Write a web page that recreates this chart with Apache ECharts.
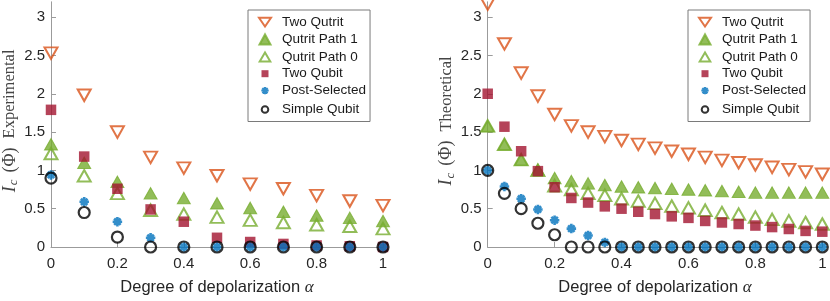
<!DOCTYPE html>
<html>
<head>
<meta charset="utf-8">
<script src="https://cdn.jsdelivr.net/npm/echarts@6/dist/echarts.min.js"></script>
<style>html,body{margin:0;padding:0;background:#fff;}#c{width:830px;height:301px;}</style>
</head>
<body>
<div id="c"></div>
<script>
// ---- data ----
const seriesNames = ['Two Qutrit', 'Qutrit Path 1', 'Qutrit Path 0', 'Two Qubit', 'Post-Selected', 'Simple Qubit'];
const xTicks = [0, 0.2, 0.4, 0.6, 0.8, 1];
const yTicks = [0, 0.5, 1, 1.5, 2, 2.5, 3];

const xExp = [0, 0.1, 0.2, 0.3, 0.4, 0.5, 0.6, 0.7, 0.8, 0.9, 1];
const expTwoQutrit = [2.53, 1.98, 1.50, 1.17, 1.03, 0.93, 0.82, 0.76, 0.67, 0.60, 0.54];
const expPath1     = [1.34, 1.10, 0.85, 0.70, 0.64, 0.57, 0.51, 0.46, 0.41, 0.38, 0.34];
const expPath0     = [1.22, 0.93, 0.70, 0.48, 0.43, 0.39, 0.35, 0.32, 0.29, 0.27, 0.24];
const expTwoQubit  = [1.79, 1.18, 0.76, 0.49, 0.33, 0.12, 0.065, 0.04, 0.02, 0.01, 0];
const expPost      = [0.94, 0.59, 0.33, 0.12, 0, 0, 0, 0, 0, 0, 0];
const expSimple    = [0.90, 0.45, 0.13, 0, 0, 0, 0, 0, 0, 0, 0];

const xTh = [0, 0.05, 0.1, 0.15, 0.2, 0.25, 0.3, 0.35, 0.4, 0.45, 0.5, 0.55, 0.6, 0.65, 0.7, 0.75, 0.8, 0.85, 0.9, 0.95, 1];
const thTwoQutrit = [3.17, 2.65, 2.27, 1.97, 1.73, 1.58, 1.50, 1.44, 1.39, 1.34, 1.29, 1.25, 1.21, 1.17, 1.13, 1.10, 1.07, 1.04, 1.01, 0.98, 0.95];
const thPath1     = [1.58, 1.34, 1.14, 1.01, 0.90, 0.86, 0.83, 0.81, 0.79, 0.78, 0.77, 0.76, 0.75, 0.74, 0.73, 0.72, 0.71, 0.71, 0.71, 0.71, 0.71];
const thPath0     = [1.58, 1.34, 1.14, 1.00, 0.80, 0.75, 0.70, 0.675, 0.63, 0.60, 0.57, 0.535, 0.51, 0.48, 0.45, 0.43, 0.39, 0.36, 0.34, 0.32, 0.30];
const thTwoQubit  = [2.00, 1.57, 1.25, 0.99, 0.78, 0.64, 0.58, 0.53, 0.50, 0.46, 0.43, 0.40, 0.38, 0.34, 0.32, 0.30, 0.28, 0.26, 0.235, 0.21, 0.20];
const thPost      = [1.00, 0.79, 0.63, 0.49, 0.35, 0.24, 0.15, 0.06, 0, 0, 0, 0, 0, 0, 0, 0, 0, 0, 0, 0, 0];
const thSimple    = [1.00, 0.70, 0.50, 0.31, 0.16, 0, 0, 0, 0, 0, 0, 0, 0, 0, 0, 0, 0, 0, 0, 0, 0];

// ---- styles ----
const C_ORANGE = '#D95319', C_GREEN = '#77AC30', C_RED = '#A2142F', C_BLUE = '#0072BD', C_BLACK = '#000000';
const AXIS_GRAY = '#9b9b9b';
const SANS = 'Liberation Sans, Arial, Helvetica, sans-serif';
const SERIF = 'Liberation Serif, Times New Roman, serif';
const ASTERISK = 'path://M5,0L5,10M0,5L10,5M1.6,1.6L8.4,8.4M8.4,1.6L1.6,8.4';

// legend icons (13x13 box; corner points fix the box so small icons stay small)
const BOX = 'M0,0L0,0M13,13L13,13';
const legendIcons = [
  'path://' + BOX + 'M0.5,2.2L12.5,2.2L6.5,11Z',
  'path://' + BOX + 'M1,11.5L12,11.5L6.5,1.5Z',
  'path://' + BOX + 'M1.2,11.3L11.8,11.3L6.5,2.2Z',
  'path://' + BOX + 'M3,3L10,3L10,10L3,10Z',
  'path://' + BOX + 'M6.5,2.8L6.5,10.2M2.8,6.5L10.2,6.5M3.9,3.9L9.1,9.1M9.1,3.9L3.9,9.1',
  'path://' + BOX + 'M9.8,6.5A3.3,3.3,0,1,1,3.2,6.5A3.3,3.3,0,1,1,9.8,6.5Z'
];

function zip(xs, ys) { return xs.map((x, i) => [x, ys[i]]); }

const styles = [
  { symbol: 'triangle', symbolRotate: 180, symbolSize: [13, 11.5], itemStyle: { color: 'none', borderColor: C_ORANGE, borderWidth: 2 } },
  { symbol: 'triangle', symbolSize: [13, 11.5], itemStyle: { color: C_GREEN, borderColor: C_GREEN, borderWidth: 1 } },
  { symbol: 'triangle', symbolSize: [13, 11.5], itemStyle: { color: 'none', borderColor: C_GREEN, borderWidth: 2 } },
  { symbol: 'rect', symbolSize: 10.5, itemStyle: { color: C_RED } },
  { symbol: ASTERISK, symbolSize: 9.5, itemStyle: { color: 'none', borderColor: C_BLUE, borderWidth: 2.6 } },
  { symbol: 'circle', symbolSize: 11, itemStyle: { color: 'none', borderColor: C_BLACK, borderWidth: 2.2 } }
];

function makeSeries(idx, xs, arrays) {
  return arrays.map((ys, k) => Object.assign({
    type: 'scatter', name: seriesNames[k], xAxisIndex: idx, yAxisIndex: idx,
    data: zip(xs, ys), clip: false, z: 2 + k,
    emphasis: { disabled: true }, animation: false
  }, styles[k]));
}

function xAxisCfg(idx) {
  return {
    type: 'value', gridIndex: idx, min: 0, max: 1, interval: 0.2,
    axisLine: { show: true, onZero: false, lineStyle: { color: AXIS_GRAY, width: 1 } },
    axisTick: { show: true, inside: true, length: 5, lineStyle: { color: AXIS_GRAY }, customValues: xTicks },
    axisLabel: { color: '#262626', fontSize: 15, fontFamily: SANS, margin: 9, customValues: xTicks },
    splitLine: { show: false },
    name: '{t|Degree of depolarization }{a|α}',
    nameLocation: 'middle', nameGap: 32,
    nameTextStyle: {
      rich: {
        t: { fontSize: 16.5, fontFamily: SANS, color: '#262626' },
        a: { fontSize: 17, fontFamily: SERIF, fontStyle: 'italic', color: '#262626' }
      }
    }
  };
}

function yAxisCfg(idx, word) {
  return {
    type: 'value', gridIndex: idx, min: 0, max: 3.2, interval: 0.5,
    axisLine: { show: true, onZero: false, lineStyle: { color: AXIS_GRAY, width: 1 } },
    axisTick: { show: true, inside: true, length: 5, lineStyle: { color: AXIS_GRAY }, customValues: yTicks },
    axisLabel: { color: '#262626', fontSize: 15, fontFamily: SANS, margin: 6, customValues: yTicks },
    splitLine: { show: false },
    name: '{i|I}{s|c}{p|(Φ)}{n|' + word + '}',
    nameLocation: 'middle', nameGap: 31, nameRotate: 90,
    nameTextStyle: {
      rich: {
        i: { fontSize: 18, fontFamily: SERIF, fontStyle: 'italic', color: '#454545', padding: [0, 1, 0, 7] },
        s: { fontSize: 13, fontFamily: SERIF, fontStyle: 'italic', color: '#454545', verticalAlign: 'bottom', padding: [7, 0, 0, 0] },
        p: { fontSize: 18, fontFamily: SERIF, color: '#454545', padding: [0, 9, 0, 7] },
        n: { fontSize: 16.5, fontFamily: SERIF, color: '#454545' }
      }
    }
  };
}

function legendCfg(left) {
  return {
    orient: 'vertical', left: left, top: 10,
    data: seriesNames.map((n, k) => ({ name: n, icon: legendIcons[k] })),
    itemWidth: 24, itemHeight: 13, itemGap: 0.9,
    padding: [3, 4, 3, 8],
    borderColor: '#7a7a7a', borderWidth: 1, backgroundColor: '#fff',
    textStyle: { fontSize: 13.5, fontFamily: SANS, color: '#1a1a1a' },
    selectedMode: false
  };
}

const chart = echarts.init(document.getElementById('c'), null, { renderer: 'canvas' });
chart.setOption({
  animation: false,
  backgroundColor: '#fff',
  grid: [
    { left: 48, width: 335, top: 1.8, bottom: 49.3, containLabel: false },
    { left: 487.7, width: 334.6, top: 1.8, bottom: 49.3, containLabel: false }
  ],
  xAxis: [xAxisCfg(0), xAxisCfg(1)],
  yAxis: [yAxisCfg(0, 'Experimental'), yAxisCfg(1, 'Theoretical')],
  legend: [legendCfg(248), legendCfg(688)],
  series: makeSeries(0, xExp, [expTwoQutrit, expPath1, expPath0, expTwoQubit, expPost, expSimple])
    .concat(makeSeries(1, xTh, [thTwoQutrit, thPath1, thPath0, thTwoQubit, thPost, thSimple]))
});
</script>
</body>
</html>
